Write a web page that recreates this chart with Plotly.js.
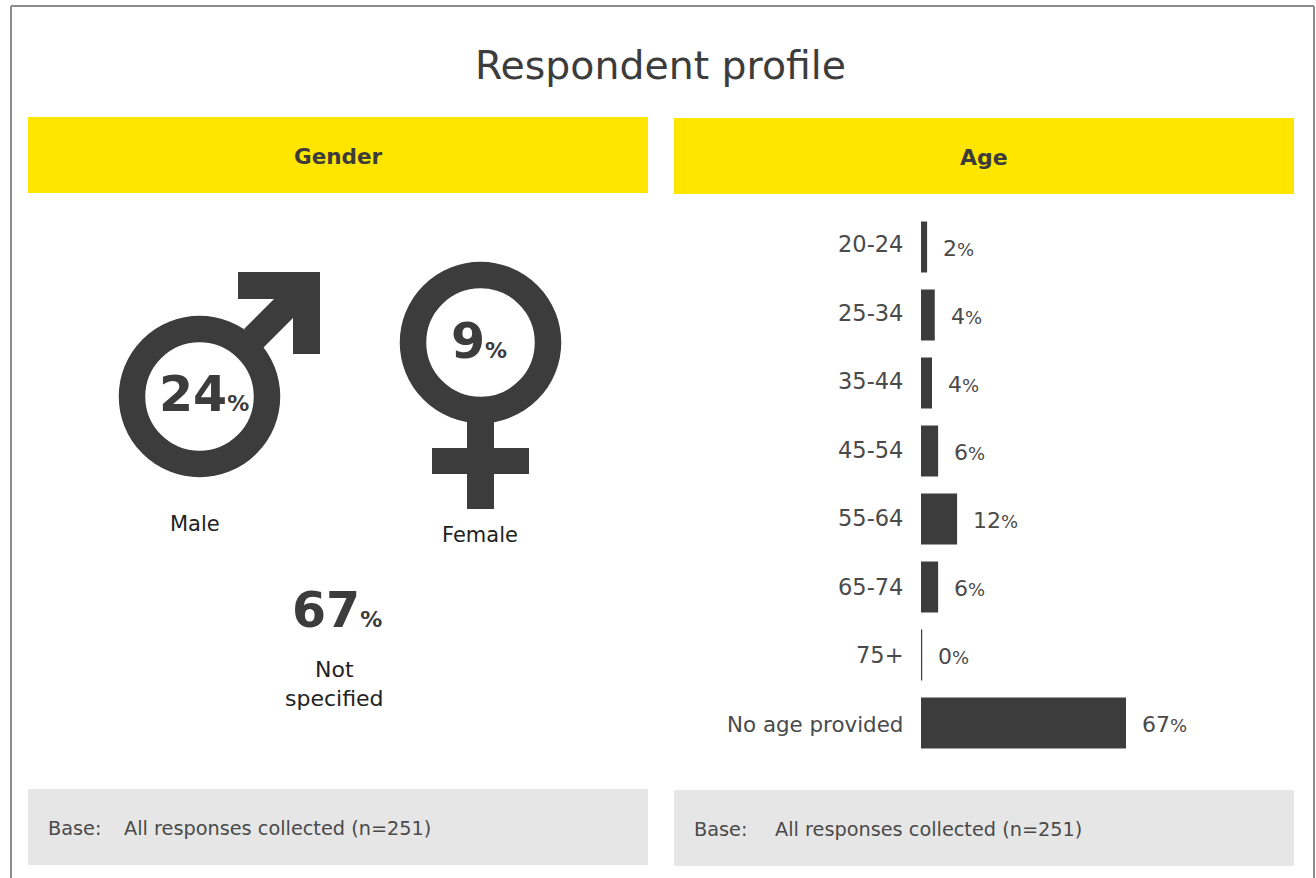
<!DOCTYPE html>
<html>
<head>
<meta charset="utf-8">
<script src="https://cdn.plot.ly/plotly-3.0.1.min.js"></script>
<style>html,body{margin:0;padding:0;background:#fff;overflow:hidden}#chart{width:1316px;height:878px}</style>
</head>
<body>
<div id="chart"></div>
<script>
const chartTitle = 'Respondent profile';
const panelTitles = ['Gender', 'Age'];
const genderLabels = ['Male', 'Female', 'Not<br>specified'];
const genderValues = [24, 9, 67];
const ageCategories = ['20-24', '25-34', '35-44', '45-54', '55-64', '65-74', '75+', 'No age provided'];
const ageValues = [2, 4.5, 3.6, 5.6, 11.8, 5.6, 0.4, 67];
const ageLabels = ['2%', '4%', '4%', '6%', '12%', '6%', '0%', '67%'];
const baseNote = 'All responses collected (n=251)';

const W = 1316, H = 878;
const DARK = '#3c3c3c', YEL = '#ffe600', GREY = '#e6e6e6', FRAME = '#8c8c8c', MID = '#4a4a4a';
const FONT = '"DejaVu Sans", sans-serif';
const px = x => x / W, py = y => 1 - y / H;

function rect(x0, y0, x1, y1, fill) {
  return {type: 'rect', xref: 'paper', yref: 'paper', x0: px(x0), x1: px(x1), y0: py(y0), y1: py(y1),
          fillcolor: fill, line: {width: 0}, layer: 'below'};
}
function poly(pts, fill) {
  const d = pts.map((p, i) => (i ? 'L' : 'M') + px(p[0]) + ',' + py(p[1])).join(' ') + ' Z';
  return {type: 'path', xref: 'paper', yref: 'paper', path: d, fillcolor: fill, line: {width: 0}, layer: 'below'};
}
function ring(cx, cy, r, w) {
  return {type: 'circle', xref: 'paper', yref: 'paper', x0: px(cx - r), x1: px(cx + r), y0: py(cy + r), y1: py(cy - r),
          fillcolor: 'rgba(255,255,255,1)', line: {color: DARK, width: w}, layer: 'below'};
}
function frameLine(x0, y0, x1, y1) {
  return {type: 'line', xref: 'paper', yref: 'paper', x0: px(x0), x1: px(x1), y0: py(y0), y1: py(y1),
          line: {color: FRAME, width: 2}, layer: 'below'};
}
function txt(x, y, text, size, opts) {
  const o = opts || {};
  return Object.assign({xref: 'paper', yref: 'paper', x: px(x), y: py(y), text: text, showarrow: false,
    xanchor: 'center', yanchor: 'middle', align: 'center', font: {family: FONT, size: size, color: o.color || DARK}}, o);
}
const bigPct = (v, b) => '<b>' + v + '</b><span style="font-size:' + b + 'px"><b>%</b></span>';
const smallPct = s => s.replace('%', '<span style="font-size:18px">%</span>');

const shapes = [
  frameLine(11, 6, 1314, 6), frameLine(11, 6, 11, 878), frameLine(1314, 6, 1314, 878),
  rect(28, 117, 648, 193, YEL), rect(674, 118, 1294, 194, YEL),
  rect(28, 789, 648, 865, GREY), rect(674, 790, 1294, 866, GREY),
  poly([[238,272],[320,272],[320,354],[293,354],[293,318],[263,348],[244,329],[274,299],[238,299]], DARK),
  ring(199.5, 396.5, 67.5, 26.5),
  poly([[467,415],[494,415],[494,448],[529,448],[529,474],[494,474],[494,509],[467,509],[467,474],[432,474],[432,448],[467,448]], DARK),
  ring(480.5, 342.5, 67.5, 26.5)
];

const annotations = [
  txt(661, 65, chartTitle, 39.4),
  txt(338, 156, '<b>' + panelTitles[0] + '</b>', 21.5),
  txt(984, 157, '<b>' + panelTitles[1] + '</b>', 22),
  txt(203.5, 394, bigPct(genderValues[0], 22), 49),
  txt(479, 341, bigPct(genderValues[1], 22), 49),
  txt(337, 610, bigPct(genderValues[2], 22), 49),
  txt(195, 524, genderLabels[0], 21, {color: '#222222'}),
  txt(480, 535, genderLabels[1], 21, {color: '#222222'}),
  txt(334, 683.5, genderLabels[2], 22, {color: '#222222'}),
  txt(46, 828, 'Base:', 19.3, {xanchor: 'left', color: MID}),
  txt(122, 828, baseNote, 19.3, {xanchor: 'left', color: MID}),
  txt(692, 829, 'Base:', 19.3, {xanchor: 'left', color: MID}),
  txt(773, 829, baseNote, 19.3, {xanchor: 'left', color: MID})
];
ageCategories.forEach((c, i) => {
  annotations.push({xref: 'x', yref: 'y', x: 0, y: c, text: c, showarrow: false, xanchor: 'right', yanchor: 'middle',
    xshift: -16, yshift: 3 - i * 4 / 7, font: {family: FONT, size: i === 7 ? 21.4 : 22.5, color: MID}});
  annotations.push({xref: 'x', yref: 'y', x: ageValues[i], y: c, text: smallPct(ageLabels[i]), showarrow: false, xanchor: 'left', yanchor: 'middle',
    xshift: 14, yshift: -1.5, font: {family: FONT, size: 22, color: MID}});
});

const pxPerUnit = 205 / 67;
const trace = {type: 'bar', orientation: 'h', y: ageCategories, x: ageValues,
  marker: {color: DARK, line: {width: 0}}, hoverinfo: 'x+y'};

const layout = {
  width: W, height: H, margin: {l: 0, r: 0, t: 0, b: 0, pad: 0},
  paper_bgcolor: '#ffffff', plot_bgcolor: 'rgba(0,0,0,0)', showlegend: false, bargap: 0.25,
  xaxis: {domain: [px(921), px(1294)], range: [0, 373 / pxPerUnit], visible: false, fixedrange: true},
  yaxis: {domain: [py(757), py(213)], type: 'category', categoryorder: 'array', categoryarray: ageCategories,
          autorange: 'reversed', visible: false, fixedrange: true},
  shapes: shapes, annotations: annotations
};
Plotly.newPlot('chart', [trace], layout, {displayModeBar: false, staticPlot: true});
</script>
</body>
</html>
